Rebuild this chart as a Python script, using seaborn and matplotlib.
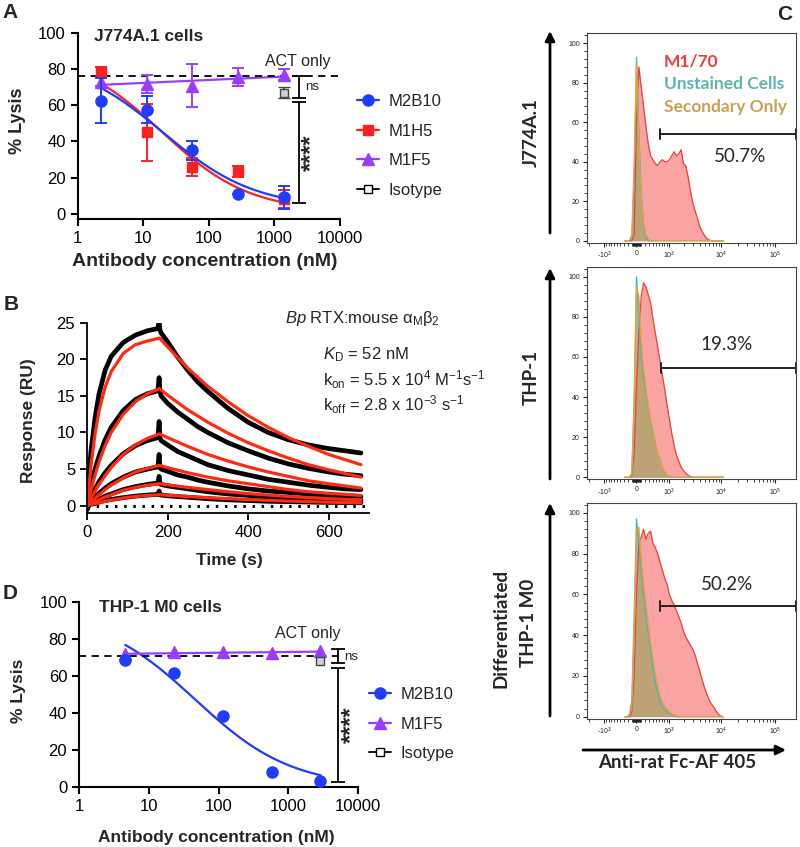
import numpy as np
import pandas as pd
import seaborn as sns
import matplotlib
matplotlib.use('Agg')
import matplotlib.pyplot as plt
from matplotlib.lines import Line2D
from matplotlib.ticker import MultipleLocator, FixedLocator

# ---------------- panel A : J774A.1 lysis ----------------
A_CONC = [2.24, 11.2, 56, 280, 1400]
A_M2B10 = [62.5, 57.5, 35, 11, 9]
A_M2B10_ERR = [12.5, 7.5, 5, 0, 6.5]
A_M1H5 = [78.5, 45, 26, 23.5, 8]
A_M1H5_ERR = [3, 16, 5, 3, 5]
A_M1F5 = [73, 72, 71, 75.5, 77]
A_M1F5_ERR = [2.5, 5, 12, 5, 3]
A_ISOTYPE = 67
A_ISOTYPE_ERR = 3
A_ACT_ONLY = 76.3
A_NS = (64.2, 76.4)
A_STARS = (5.6, 61.7)
A_FIT_M2B10 = (87, 3, 20, 0.62)   # top, bottom, EC50, hill
A_FIT_M1H5 = (90, 1, 19, 0.65)

# ---------------- panel D : THP-1 M0 lysis ----------------
D_CONC = [4.6, 23, 115, 575, 2875]
D_M2B10 = [69, 62, 38.5, 8.5, 3.5]
D_M1F5 = [71.8, 73, 73, 72.5, 73.5]
D_ISOTYPE = 68.5
D_ACT_ONLY = 70.8
D_NS = (67, 74.6)
D_STARS = (3, 64.6)
D_FIT_M2B10 = (95, 0, 46, 0.63)

# ---------------- panel B : SPR sensorgrams ----------------
T_RAW = [0, 5, 10, 20, 30, 45, 60, 90, 120, 150, 176, 179, 181, 184, 200, 225,
         250, 275, 300, 350, 400, 450, 500, 550, 600, 640, 680]
RAW = [
    [-0.5, 4.5, 7.5, 12.0, 15.3, 18.5, 20.4, 22.3, 23.3, 23.9, 24.2, 25.3, 24.0, 23.6,
     22.4, 20.3, 18.5, 16.9, 15.6, 13.3, 11.4, 10.0, 9.0, 8.3, 7.8, 7.5, 7.2],
    [-0.5, 1.5, 2.8, 5.0, 6.8, 9.0, 10.7, 13.0, 14.5, 15.3, 15.7, 17.5, 15.6, 15.0,
     14.0, 12.8, 11.8, 10.8, 10.0, 8.6, 7.5, 6.5, 5.7, 5.1, 4.6, 4.3, 4.1],
    [-0.5, 0.6, 1.2, 2.3, 3.3, 4.5, 5.5, 7.1, 8.2, 8.9, 9.3, 11.5, 9.3, 8.9,
     8.3, 7.4, 6.8, 6.2, 5.6, 4.8, 4.2, 3.6, 3.2, 2.8, 2.5, 2.3, 2.2],
    [-0.5, 0.3, 0.6, 1.2, 1.7, 2.4, 3.0, 3.9, 4.6, 5.0, 5.3, 7.0, 5.2, 5.0,
     4.7, 4.2, 3.9, 3.5, 3.2, 2.7, 2.3, 2.0, 1.8, 1.6, 1.45, 1.35, 1.25],
    [-0.5, 0.2, 0.35, 0.6, 0.9, 1.3, 1.6, 2.2, 2.6, 2.9, 3.1, 4.0, 3.0, 2.9,
     2.7, 2.5, 2.3, 2.1, 1.9, 1.6, 1.4, 1.2, 1.05, 0.95, 0.85, 0.8, 0.75],
    [-0.5, 0.1, 0.2, 0.3, 0.5, 0.7, 0.85, 1.1, 1.3, 1.45, 1.55, 2.0, 1.5, 1.45,
     1.35, 1.25, 1.15, 1.05, 0.95, 0.8, 0.7, 0.6, 0.55, 0.5, 0.45, 0.42, 0.4],
]
T_FIT = [0, 10, 20, 30, 45, 60, 90, 120, 150, 180, 200, 250, 300, 350, 400,
         450, 500, 550, 600, 680]
FIT = [
    [0, 5.5, 9.8, 13.0, 16.2, 18.3, 20.8, 22.0, 22.5, 22.9, 21.7, 18.8, 16.3, 14.2,
     12.3, 10.7, 9.3, 8.1, 7.0, 5.6],
    [0, 2.2, 4.2, 6.0, 8.2, 10.0, 12.5, 14.2, 15.3, 16.0, 15.1, 13.1, 11.4, 9.9,
     8.6, 7.5, 6.5, 5.6, 4.9, 3.9],
    [0, 1.0, 2.0, 2.9, 4.1, 5.2, 7.0, 8.3, 9.2, 9.8, 9.3, 8.1, 7.0, 6.1,
     5.3, 4.6, 4.0, 3.4, 3.0, 2.4],
    [0, 0.5, 1.0, 1.5, 2.2, 2.8, 3.8, 4.6, 5.1, 5.5, 5.2, 4.5, 3.9, 3.4,
     3.0, 2.6, 2.2, 1.9, 1.7, 1.4],
    [0, 0.3, 0.5, 0.8, 1.2, 1.5, 2.1, 2.5, 2.8, 3.0, 2.85, 2.5, 2.2, 1.9,
     1.65, 1.45, 1.25, 1.1, 0.95, 0.8],
    [0, 0.15, 0.3, 0.4, 0.6, 0.75, 1.05, 1.25, 1.4, 1.5, 1.42, 1.25, 1.1, 0.95,
     0.83, 0.72, 0.63, 0.55, 0.48, 0.4],
]

# ---------------- panel C : flow histograms (% of max) ----------------
FLOW_W = 540                                   # biexponential width
FLOW_U = np.round(np.arange(-0.5, 3.75, 0.1), 1)  # display bins (asinh units)
FLOW_TICKS = [-1e3, 0, 1e3, 1e4, 1e5]
FLOW_TICK_LABELS = ['-10$^3$', '0', '10$^3$', '10$^4$', '10$^5$']

J774_RED = [0, 0, 0, 0, 3, 60, 88, 78, 68, 58, 49, 43, 41, 39, 38, 40, 41, 40, 40, 41,
            43, 45, 43, 44, 46, 39, 38, 32, 25, 19, 15, 11, 7, 4.5, 2.5, 1, 0.3]
J774_TEAL = [0, 0, 0, 2, 30, 93, 55, 25, 8, 2]
J774_ORANGE = [0, 0, 0, 3, 40, 90, 50, 22, 9, 3, 1]
THP1_RED = [0, 0, 0, 1, 12, 45, 72, 90, 97, 95, 91, 87, 79, 72, 65, 58, 51, 44, 36, 29,
            22, 16, 11, 8, 5, 3.5, 2, 1, 0.4]
THP1_TEAL = [0, 0, 0, 2, 40, 100, 80, 62, 50, 42, 35, 28, 22, 17, 12, 9, 5, 3, 1, 0.3]
THP1_ORANGE = [0, 0, 0, 2, 35, 95, 90, 68, 54, 44, 36, 29, 23, 17, 12, 8, 5, 3, 1]
M0_RED = [0, 0, 0, 2, 20, 60, 85, 88, 92, 87, 90, 91, 85, 83, 80, 76, 72, 68, 65, 60,
          57, 55, 52, 49, 46, 42, 39, 37, 35, 33, 30, 26, 22, 18, 14, 11, 8, 6, 4.5,
          2.5, 1, 0.2]
M0_TEAL = [0, 0, 1, 8, 50, 97, 85, 72, 60, 50, 42, 32, 24, 17, 12, 8, 5, 3.5, 2.5,
           1.5, 1, 0.5]
M0_ORANGE = [0, 0, 1, 5, 40, 92, 93, 78, 65, 55, 46, 36, 28, 21, 15, 10, 7, 5, 3.5,
             2.5, 1.5, 1, 0.5]
GATES = [  # (gate y, gate start in display units, label, label x, label y)
    (54, 1.02, '50.7%', 4.4, 42.5),
    (54.7, 1.04, '19.3%', 3.85, 66),
    (54.5, 1.02, '50.2%', 3.87, 65),
]

BLUE, RED, PURPLE = '#1f3cff', '#ff2020', '#9b3dff'
W, H = 800, 847


def four_pl(x, top, bottom, ec50, hill):
    return bottom + (top - bottom) / (1 + (x / ec50) ** hill)


def rect(l, t, r, b):
    return [l / W, 1 - b / H, (r - l) / W, (b - t) / H]


def pad(vals):
    return np.array(list(vals) + [0] * (len(FLOW_U) - len(vals)), float)


sns.set_style('ticks')
plt.rcParams['font.family'] = ['Liberation Sans', 'DejaVu Sans']
plt.rcParams['mathtext.fontset'] = 'custom'
plt.rcParams['mathtext.rm'] = 'Liberation Sans'
plt.rcParams['mathtext.it'] = 'Liberation Sans:italic'
plt.rcParams['mathtext.bf'] = 'Liberation Sans:bold'

fig = plt.figure(figsize=(W / 100, H / 100), dpi=100)


def lysis_axes(ax, ylo):
    ax.set_xscale('log')
    ax.set_ylim(ylo, 100)
    ax.xaxis.set_major_locator(FixedLocator([1, 10, 100, 1000, 10000]))
    ax.xaxis.set_minor_locator(FixedLocator([]))
    ax.set_xticklabels(['1', '10', '100', '1000', '10000'])
    ax.yaxis.set_major_locator(MultipleLocator(20))
    ax.tick_params(labelsize=12, width=1.5, length=5, direction='out', colors='k')
    for s in ['left', 'bottom']:
        ax.spines[s].set_linewidth(1.5)
        ax.spines[s].set_color('k')
    sns.despine(ax=ax)


def bracket(ax, x, lo, hi):
    ax.errorbar([x], [(lo + hi) / 2], yerr=[(hi - lo) / 2], fmt='none', ecolor='k',
                elinewidth=1.3, capsize=5, capthick=1.3, clip_on=False)


# ---------------- A ----------------
axA = fig.add_axes(rect(77.7, 33.3, 340, 219))
xx = np.logspace(np.log10(A_CONC[0]), np.log10(A_CONC[-1]), 200)
sns.lineplot(x=xx, y=four_pl(xx, *A_FIT_M1H5), color=RED, lw=1.6, ax=axA)
sns.lineplot(x=xx, y=four_pl(xx, *A_FIT_M2B10), color=BLUE, lw=1.6, ax=axA)
k, b0 = np.polyfit(np.log10(A_CONC), A_M1F5, 1)
sns.lineplot(x=xx, y=k * np.log10(xx) + b0, color=PURPLE, lw=1.6, ax=axA)
axA.axhline(A_ACT_ONLY, color='k', ls=(0, (4, 3)), lw=1.3)
axA.errorbar(A_CONC, A_M1F5, yerr=A_M1F5_ERR, fmt='^', color=PURPLE, ms=8, capsize=4,
             elinewidth=1.4, capthick=1.4, clip_on=False, zorder=3)
axA.errorbar(A_CONC, A_M1H5, yerr=A_M1H5_ERR, fmt='s', color=RED, ms=7, capsize=4,
             elinewidth=1.4, capthick=1.4, clip_on=False, zorder=3)
axA.errorbar(A_CONC, A_M2B10, yerr=A_M2B10_ERR, fmt='o', color=BLUE, ms=8, capsize=4,
             elinewidth=1.4, capthick=1.4, clip_on=False, zorder=4)
axA.errorbar([A_CONC[-1]], [A_ISOTYPE], yerr=[A_ISOTYPE_ERR], fmt='s', mfc='#cfcfcf',
             mec='#444444', ecolor='#444444', ms=6, capsize=4, elinewidth=1.2, zorder=5)
bracket(axA, 2350, *A_NS)
bracket(axA, 2350, *A_STARS)
axA.text(2900, 70.4, 'ns', fontsize=9.5, va='center', ha='left')
axA.text(3700, np.mean(A_STARS), '****', fontsize=17, fontweight='bold', rotation=90,
         va='center', ha='center')
axA.text(0.062, 0.985, 'J774A.1 cells', transform=axA.transAxes, fontsize=12.5,
         fontweight='bold', va='center', ha='left')
axA.text(2300, 84.5, 'ACT only', fontsize=11.5, ha='center', va='center')
axA.set_xlim(1, 10000)
lysis_axes(axA, -3)
axA.set_ylabel('% Lysis', fontsize=13, fontweight='bold')
axA.yaxis.set_label_coords(-0.197, 0.53)
axA.set_xlabel('Antibody concentration (nM)', fontsize=14, fontweight='bold')
axA.xaxis.set_label_coords(0.485, -0.23)
axA.xaxis.label.set_va('center')

hA = [Line2D([0], [0], color=BLUE, marker='o', ms=8, lw=1.6),
      Line2D([0], [0], color=RED, marker='s', ms=7, lw=1.6),
      Line2D([0], [0], color=PURPLE, marker='^', ms=8, lw=1.6),
      Line2D([0], [0], color='k', marker='s', mfc='white', ms=6, lw=1.3)]
fig.legend(hA, ['M2B10', 'M1H5', 'M1F5', 'Isotype'], loc='upper left',
           bbox_to_anchor=(357 / W, 1 - 94 / H), frameon=False, fontsize=12,
           handlelength=1.3, handletextpad=0.6, labelspacing=0.88, borderpad=0,
           borderaxespad=0)

# ---------------- B ----------------
axB = fig.add_axes(rect(87, 322.7, 369, 513))
for trace in RAW:
    sns.lineplot(x=T_RAW, y=trace, color='k', lw=3.4, ax=axB, sort=False)
for trace in FIT:
    sns.lineplot(x=T_FIT, y=trace, color='#ff2a10', lw=2.3, ax=axB)
axB.plot([0, 700], [0, 0], color='k', lw=2.2, ls=(0, (0.8, 2.2)), zorder=1)
axB.set_xlim(0, 700)
axB.set_ylim(-1, 25)
axB.xaxis.set_major_locator(FixedLocator([0, 200, 400, 600]))
axB.yaxis.set_major_locator(MultipleLocator(5))
axB.tick_params(labelsize=12, width=1.3, length=5, colors='k')
for s in ['left', 'bottom']:
    axB.spines[s].set_linewidth(1.3)
    axB.spines[s].set_color('k')
sns.despine(ax=axB)
axB.set_ylabel('Response (RU)', fontsize=12.5, fontweight='bold')
axB.yaxis.set_label_coords(-0.18, 0.486)
axB.set_xlabel('Time (s)', fontsize=12.5, fontweight='bold')
axB.xaxis.set_label_coords(0.505, -0.25)
axB.xaxis.label.set_va('center')

# ---------------- D ----------------
axD = fig.add_axes(rect(79, 602.3, 358.3, 787.3))
xd = np.logspace(np.log10(D_CONC[0]), np.log10(D_CONC[-1]), 200)
sns.lineplot(x=xd, y=four_pl(xd, *D_FIT_M2B10), color=BLUE, lw=1.6, ax=axD)
k, b0 = np.polyfit(np.log10(D_CONC), D_M1F5, 1)
sns.lineplot(x=xd, y=k * np.log10(xd) + b0, color=PURPLE, lw=1.6, ax=axD)
axD.plot([1, 5500], [D_ACT_ONLY, D_ACT_ONLY], color='k', ls=(0, (4, 3)), lw=1.3)
axD.plot(D_CONC, D_M1F5, '^', color=PURPLE, ms=8, clip_on=False, zorder=3)
axD.plot(D_CONC, D_M2B10, 'o', color=BLUE, ms=8, clip_on=False, zorder=4)
axD.plot([D_CONC[-1]], [D_ISOTYPE], 's', mfc='#cfcfcf', mec='#444444', ms=6, zorder=5)
bracket(axD, 5190, *D_NS)
bracket(axD, 5190, *D_STARS)
axD.text(6300, 70.6, 'ns', fontsize=9.5, va='center', ha='left')
axD.text(8000, np.mean(D_STARS), '****', fontsize=17, fontweight='bold', rotation=90,
         va='center', ha='center')
axD.text(0.072, 0.97, 'THP-1 M0 cells', transform=axD.transAxes, fontsize=12.5,
         fontweight='bold', va='center', ha='left')
axD.text(1900, 82.9, 'ACT only', fontsize=11.5, ha='center', va='center')
axD.set_xlim(1, 10000)
lysis_axes(axD, 0)
axD.set_ylabel('% Lysis', fontsize=12.5, fontweight='bold')
axD.yaxis.set_label_coords(-0.19, 0.52)
axD.set_xlabel('Antibody concentration (nM)', fontsize=12.5, fontweight='bold')
axD.xaxis.set_label_coords(0.493, -0.269)
axD.xaxis.label.set_va('center')

hD = [hA[0], hA[2], hA[3]]
fig.legend(hD, ['M2B10', 'M1F5', 'Isotype'], loc='upper left',
           bbox_to_anchor=(369 / W, 1 - 687 / H), frameon=False, fontsize=12,
           handlelength=1.3, handletextpad=0.6, labelspacing=0.88, borderpad=0,
           borderaxespad=0)

# ---------------- C ----------------
flow_rects = [rect(586.7, 33.3, 796, 242.7), rect(586.7, 266.7, 796, 479.3),
              rect(586.7, 502.7, 796, 718.7)]
flow_sets = [(J774_RED, J774_TEAL, J774_ORANGE), (THP1_RED, THP1_TEAL, THP1_ORANGE),
             (M0_RED, M0_TEAL, M0_ORANGE)]
u_lo, u_hi = -2.12, 6.79
minor_vals = [s * k * 10 ** n for s in (-1, 1) for n in (1, 2, 3, 4) for k in range(1, 10)
              if not (k == 1 and n == 3) and not (k == 1 and n == 4 and s == 1)]
minor_u = [np.arcsinh(v / FLOW_W) for v in minor_vals]
minor_u = [m for m in minor_u if u_lo < m < u_hi]
FLOW_FONT = ['Lato', 'DejaVu Sans']

for r, (red, teal, orange), gate in zip(flow_rects, flow_sets, GATES):
    ax = fig.add_axes(r)
    ax.fill_between(FLOW_U, pad(red), color='#f9a3a3', lw=0)
    sns.lineplot(x=FLOW_U, y=pad(red), color='#e8403a', lw=0.9, ax=ax)
    ax.fill_between(FLOW_U, pad(teal), color='#6db8a8', alpha=0.55, lw=0)
    sns.lineplot(x=FLOW_U, y=pad(teal), color='#35b8cc', lw=0.9, ax=ax)
    ax.fill_between(FLOW_U, pad(orange), color='#c99a55', alpha=0.6, lw=0)
    sns.lineplot(x=FLOW_U, y=pad(orange), color='#f0a030', lw=0.9, ax=ax)
    gy, gu, lab, lx, ly = gate
    ax.plot([gu, u_hi], [gy, gy], color='#222222', lw=1.4, clip_on=False)
    ax.plot([gu, gu], [gy - 2.5, gy + 2.5], color='#222222', lw=1.4)
    ax.plot([u_hi, u_hi], [gy - 2.5, gy + 2.5], color='#222222', lw=1.4, clip_on=False)
    ax.text(lx, ly, lab, fontsize=13.5, ha='center', va='center', family=FLOW_FONT)
    ax.set_xlim(u_lo, u_hi)
    ax.set_ylim(-1, 105)
    ax.set_xticks(np.arcsinh(np.array(FLOW_TICKS) / FLOW_W))
    ax.set_xticklabels(FLOW_TICK_LABELS)
    ax.xaxis.set_minor_locator(FixedLocator(minor_u))
    ax.yaxis.set_major_locator(MultipleLocator(20))
    ax.yaxis.set_minor_locator(MultipleLocator(4))
    ax.tick_params(which='major', labelsize=5, length=3, width=0.8, pad=2, colors='#222222')
    ax.tick_params(which='minor', length=2, width=0.6, colors='#222222')
    for s in ax.spines.values():
        s.set_linewidth(0.8)
        s.set_color('#444444')
    if lab == '50.7%':
        ax.text(1.17, 90.6, 'M1/70', color='#e8403a', fontsize=12.5, fontweight='bold',
                va='center', family=FLOW_FONT)
        ax.text(1.17, 79.3, 'Unstained Cells', color='#62b5a6', fontsize=12.5,
                fontweight='bold', va='center', family=FLOW_FONT)
        ax.text(1.17, 67.8, 'Secondary Only', color='#c9a053', fontsize=12.5,
                fontweight='bold', va='center', family=FLOW_FONT)

# ---------------- overlay: letters, row labels, arrows ----------------
ov = fig.add_axes([0, 0, 1, 1])
ov.set_xlim(0, W)
ov.set_ylim(H, 0)
ov.axis('off')
for lx, ly, letter in [(2, 12.5, 'A'), (4, 304, 'B'), (792, 14, 'C'), (3, 593.5, 'D')]:
    ov.text(lx, ly, letter, fontsize=15, fontweight='bold', va='center',
            ha='right' if letter == 'C' else 'left')
ov.text(285, 319, r'$\mathit{Bp}$ RTX:mouse α$_\mathrm{M}$β$_2$', fontsize=12, va='center')
ov.text(323, 355, r'$\mathit{K}_\mathrm{D}$ = 52 nM', fontsize=12, va='center')
ov.text(323, 380, r'k$_\mathrm{on}$ = 5.5 x 10$^4$ M$^{-1}$s$^{-1}$', fontsize=12,
        va='center')
ov.text(323, 405, r'k$_\mathrm{off}$ = 2.8 x 10$^{-3}$ s$^{-1}$', fontsize=12, va='center')
arrow = dict(arrowstyle='-|>', lw=2, color='k', mutation_scale=14, shrinkA=0, shrinkB=0)
for y0, y1 in [(233, 31), (479, 268), (716, 503)]:
    ov.annotate('', xy=(550, y1), xytext=(550, y0), arrowprops=arrow)
ov.annotate('', xy=(786, 750), xytext=(583, 750), arrowprops=arrow)
ov.text(531, 133, 'J774A.1', rotation=90, fontsize=13.5, fontweight='bold',
        ha='center', va='center', family=FLOW_FONT)
ov.text(531, 377, 'THP-1', rotation=90, fontsize=13.5, fontweight='bold',
        ha='center', va='center', family=FLOW_FONT)
ov.text(501, 628, 'Differentiated', rotation=90, fontsize=13.5, fontweight='bold',
        ha='center', va='center', family=FLOW_FONT)
ov.text(528, 623, 'THP-1 M0', rotation=90, fontsize=13.5, fontweight='bold',
        ha='center', va='center', family=FLOW_FONT)
ov.text(677, 762, 'Anti-rat Fc-AF 405', fontsize=13.5, fontweight='bold',
        ha='center', va='center', family=FLOW_FONT)

fig.savefig('out.png', dpi=100)
